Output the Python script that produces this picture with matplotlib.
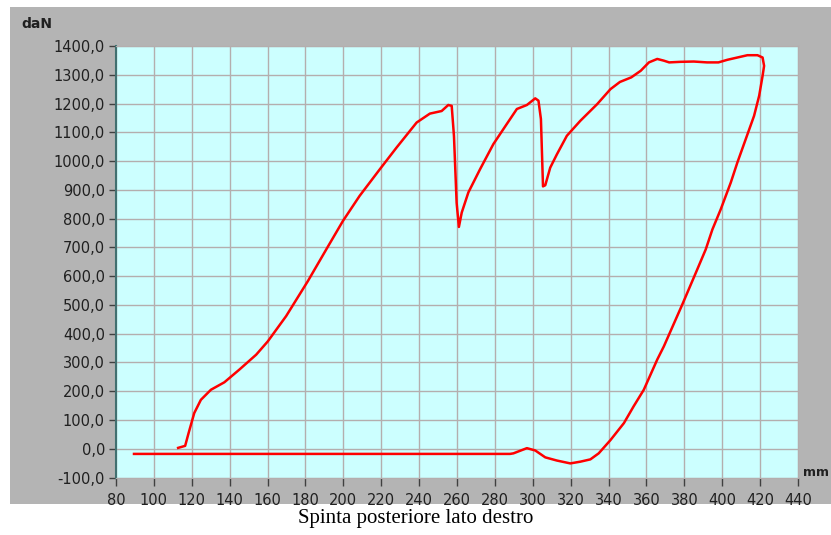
"""
Spinta posteriore lato destro - force vs displacement loop
"""

import matplotlib
matplotlib.use("Agg")
import matplotlib.pyplot as plt
from matplotlib.patches import Rectangle
from matplotlib.ticker import FuncFormatter

# Loading branch (mm, daN)
load_mm = [112.8, 116.5, 118.3, 121.3, 124.8, 130.1, 137.2, 145.1, 154.0, 160.1,
           169.8, 181.3, 191.0, 199.8, 208.6, 219.2, 228.1, 238.7, 245.7, 251.9,
           255.4, 257.2, 258.4, 259.8, 261.0, 262.5, 266.0, 272.2, 279.2, 286.3,
           291.6, 296.9, 301.3, 303.0, 304.3, 305.4, 306.6, 309.2, 312.7, 318.0,
           325.1, 334.0, 341.0, 346.0, 352.0, 357.0, 361.3, 365.7, 369.2, 372.0,
           378.0, 385.0, 392.0, 398.0, 402.7, 408.0, 413.3, 418.6, 421.3, 422.1]
load_dan = [3, 10, 54, 124, 170, 205, 231, 275, 327, 373,
            461, 583, 693, 792, 879, 971, 1047, 1134, 1165, 1174,
            1195, 1192, 1087, 855, 771, 821, 891, 972, 1059, 1129,
            1181, 1195, 1218, 1210, 1146, 912, 916, 977, 1023, 1088,
            1140, 1198, 1250, 1275, 1291, 1314, 1343, 1355, 1349, 1343,
            1345, 1346, 1343, 1343, 1352, 1360, 1368, 1368, 1360, 1331]

# Unloading branch (mm, daN)
unload_mm = [421.3, 419.5, 416.8, 412.4, 408.0, 404.5, 399.2, 394.8, 391.3, 386.8,
             378.9, 369.2, 365.7, 358.6, 353.2, 348.1, 341.0, 334.8, 330.4, 325.1,
             319.8, 312.7, 306.6, 301.3, 296.9, 289.8, 288.0, 89.5]
unload_dan = [1296, 1227, 1157, 1076, 995, 925, 832, 762, 693, 623,
              501, 356, 310, 205, 147, 89, 30, -16, -37, -45,
              -51, -41, -30, -6, 2, -16, -18, -18]

x_ticks = list(range(80, 441, 20))
y_ticks = list(range(-100, 1401, 100))

W, H = 831, 535
fig = plt.figure(figsize=(W / 100, H / 100), dpi=100, facecolor="white")

# grey panel behind the chart
fig.patches.append(Rectangle((10 / W, 31 / H), 1 - 10 / W, (504 - 7) / H,
                             transform=fig.transFigure, facecolor="#b4b4b4",
                             edgecolor="none", zorder=-10))

ax = fig.add_axes([116 / W, 1 - 477.5 / H, (798 - 116) / W, (477.5 - 46) / H])
ax.set_zorder(5)
ax.set_facecolor("#ccffff")

ax.plot(load_mm + unload_mm, load_dan + unload_dan, color="#ff0000", lw=1.8,
        solid_joinstyle="round", zorder=3)

ax.set_xlim(80, 440)
ax.set_ylim(-100, 1400)
ax.set_xticks(x_ticks)
ax.set_yticks(y_ticks)
ax.yaxis.set_major_formatter(FuncFormatter(lambda v, p: f"{v:.1f}".replace(".", ",")))
ax.grid(True, color="#b4aeae", lw=1.0)
ax.set_axisbelow(True)
ax.tick_params(length=5, width=1, color="#404040", labelsize=10.5,
               labelcolor="#202020", pad=3)
ax.tick_params(axis="x", length=6, pad=5)

for side in ("top", "right", "bottom"):
    ax.spines[side].set_color("#b4aeae")
ax.spines["left"].set_color("#407070")
ax.spines["left"].set_linewidth(1.5)

fig.text(21 / W, 1 - 23.5 / H, "daN", fontsize=10, fontweight="bold",
         va="center", ha="left", color="#202020")
fig.text(803 / W, 1 - 472 / H, "mm", fontsize=9, fontweight="bold",
         va="center", ha="left", color="#202020")
fig.text(0.5, 1 - 519 / H, "Spinta posteriore lato destro",
         family="Liberation Serif", fontsize=15, ha="center", va="center")

fig.savefig("out.png", dpi=100, facecolor="white")
